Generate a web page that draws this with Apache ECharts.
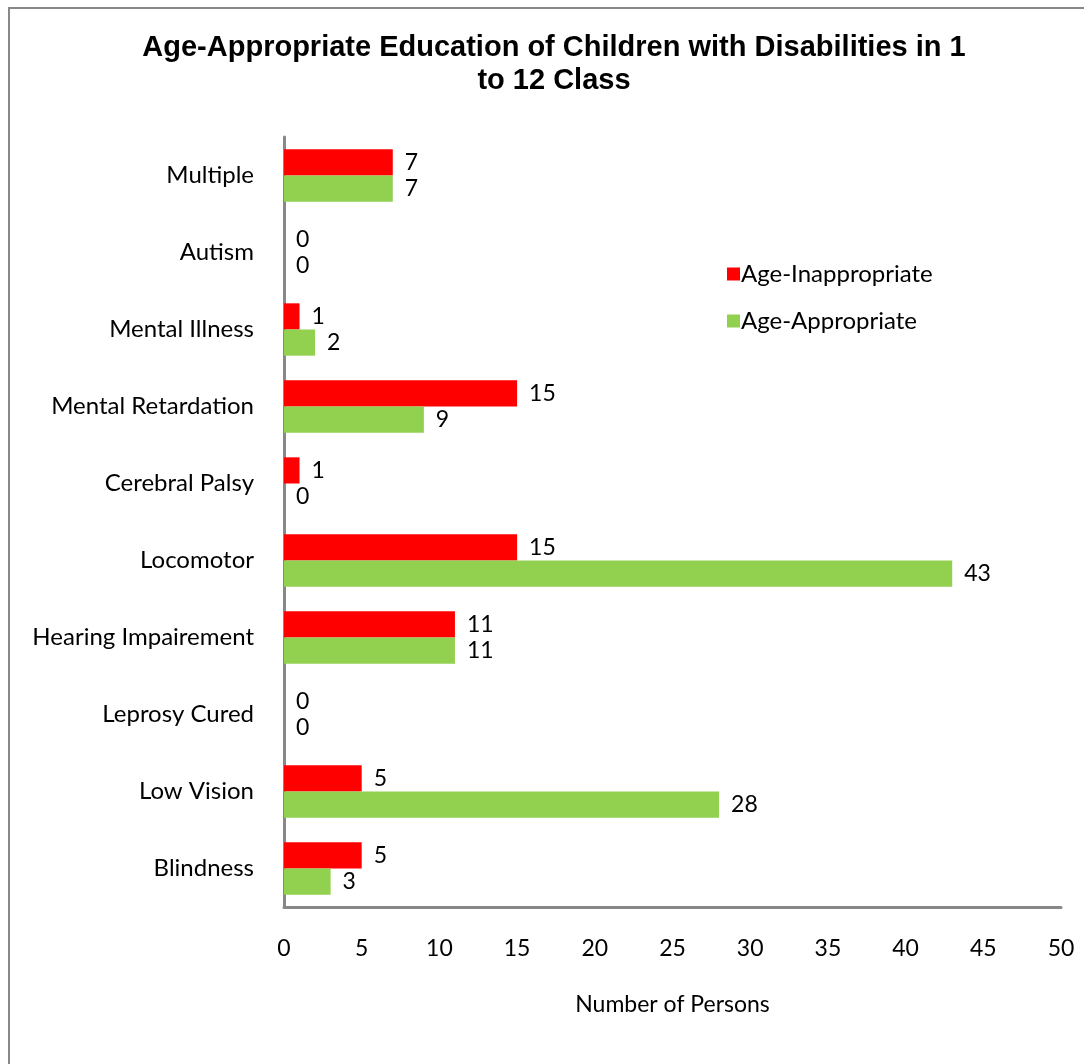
<!DOCTYPE html>
<html>
<head>
<meta charset="utf-8">
<script src="https://cdn.jsdelivr.net/npm/echarts@6/dist/echarts.min.js"></script>
<style>
  html, body { margin: 0; padding: 0; background: #fff; }
</style>
</head>
<body>
<div id="main" style="width:1084px;height:1064px;"></div>
<script type="text/javascript">
	// 类目（从下到上）
	var categories = ['Blindness', 'Low Vision', 'Leprosy Cured', 'Hearing Impairement', 'Locomotor',
		'Cerebral Palsy', 'Mental Retardation', 'Mental Illness', 'Autism', 'Multiple'];
	var inappropriate = [5, 5, 0, 11, 15, 1, 15, 1, 0, 7];
	var appropriate = [3, 28, 0, 11, 43, 0, 9, 2, 0, 7];
	var xTicks = [0, 50, 5]; // min, max, interval

	var labelFont = 'Lato, "Open Sans", sans-serif';
	var myEcharts = echarts.init(document.getElementById('main'));
	var option = {
		animation: false,
		title: {
			text: 'Age-Appropriate Education of Children with Disabilities in 1\nto 12 Class',
			left: 549,
			top: 26,
			textAlign: 'center',
			textStyle: {
				fontFamily: '"Liberation Sans", Arial, sans-serif',
				fontWeight: 'bold',
				fontSize: 29,
				lineHeight: 33,
				color: '#000'
			}
		},
		graphic: [{
			type: 'rect',
			shape: {x: 9, y: 8, width: 1200, height: 1200},
			style: {fill: 'none', stroke: '#888', lineWidth: 2},
			silent: true
		}],
		legend: {
			data: ['Age-Inappropriate', 'Age-Appropriate'],
			orient: 'vertical',
			left: 722,
			top: 257,
			itemWidth: 13,
			itemHeight: 13,
			itemGap: 23,
			icon: 'rect',
			textStyle: {fontFamily: labelFont, fontSize: 24, color: '#000', padding: [0, 0, 0, -4]}
		},
		grid: {left: 284, right: 23, top: 137, bottom: 157},
		xAxis: {
			type: 'value',
			min: xTicks[0],
			max: xTicks[1],
			interval: xTicks[2],
			name: 'Number of Persons',
			nameLocation: 'middle',
			nameGap: 86,
			nameTextStyle: {fontFamily: labelFont, fontSize: 23, color: '#000'},
			axisLine: {show: true, lineStyle: {color: '#888', width: 3}},
			axisTick: {show: false},
			splitLine: {show: false},
			axisLabel: {fontFamily: labelFont, fontSize: 23, color: '#000', margin: 30}
		},
		yAxis: {
			type: 'category',
			data: categories,
			axisLine: {show: true, lineStyle: {color: '#888', width: 3}},
			axisTick: {show: false},
			axisLabel: {fontFamily: labelFont, fontSize: 24, color: '#000', margin: 30}
		},
		series: [
			{
				name: 'Age-Inappropriate',
				type: 'bar',
				data: inappropriate,
				barGap: '0%',
				barCategoryGap: '32%',
				itemStyle: {color: '#ff0000'},
				label: {show: true, position: 'right', distance: 12, fontFamily: labelFont, fontSize: 23, color: '#000'}
			},
			{
				name: 'Age-Appropriate',
				type: 'bar',
				data: appropriate,
				barGap: '0%',
				barCategoryGap: '32%',
				itemStyle: {color: '#92d050'},
				label: {show: true, position: 'right', distance: 12, fontFamily: labelFont, fontSize: 23, color: '#000'}
			}
		]
	};
	myEcharts.setOption(option);
</script>
</body>
</html>
